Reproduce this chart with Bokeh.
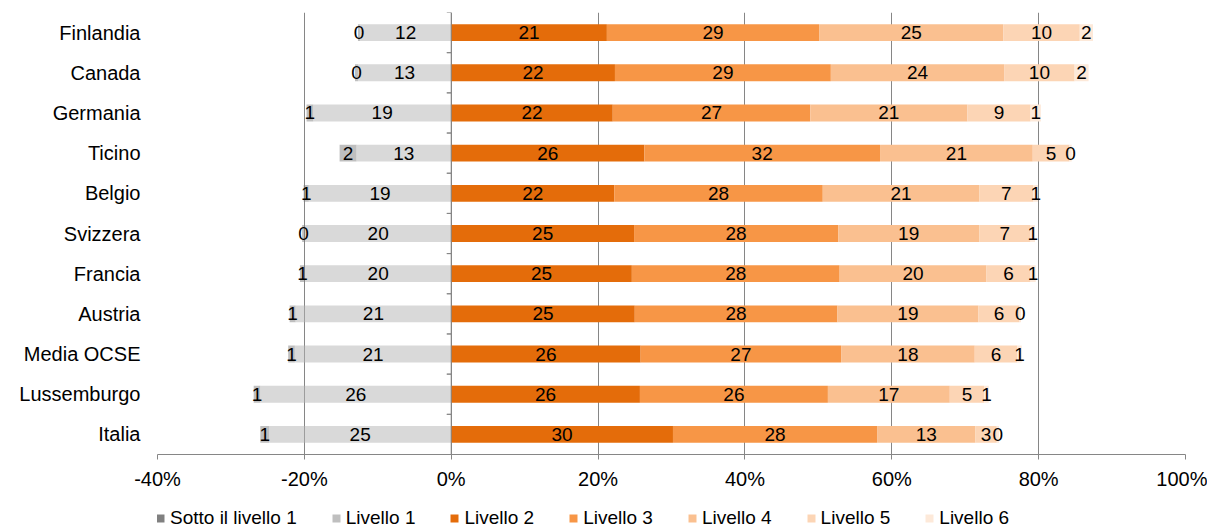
import numpy as np
from bokeh.plotting import figure
from bokeh.layouts import column
from bokeh.models import (ColumnDataSource, FactorRange, Range1d, FixedTicker,
                          PrintfTickFormatter, Legend, LegendItem, Span)
from bokeh.transform import dodge
from bokeh.core.properties import value
from bokeh.embed import file_html
from bokeh.resources import INLINE

# ---------------- data ----------------
categories = ["Finlandia", "Canada", "Germania", "Ticino", "Belgio", "Svizzera",
              "Francia", "Austria", "Media OCSE", "Lussemburgo", "Italia"]
sotto_livello1 = [0.3, 0.4, 0.9, 2.3, 0.7, 0.4, 0.7, 0.8, 0.9, 0.9, 1.2]
livello1 = [12.4, 12.7, 18.8, 12.9, 19.4, 19.9, 19.9, 21.2, 21.3, 26.0, 24.8]
livello2 = [21.2, 22.3, 22.0, 26.3, 22.2, 24.9, 24.6, 25.0, 25.8, 25.7, 30.2]
livello3 = [28.9, 29.4, 26.9, 32.1, 28.4, 27.8, 28.3, 27.6, 27.3, 25.6, 27.8]
livello4 = [25.1, 23.6, 21.4, 20.8, 21.3, 19.2, 20.0, 19.2, 18.2, 16.6, 13.4]
livello5 = [10.4, 9.6, 8.6, 5.0, 7.4, 7.0, 6.0, 5.6, 5.8, 4.7, 2.9]
livello6 = [1.8, 1.9, 1.4, 0.3, 0.6, 0.6, 0.7, 0.2, 0.6, 0.6, 0.3]
series_names = ["Sotto il livello 1", "Livello 1", "Livello 2", "Livello 3",
                "Livello 4", "Livello 5", "Livello 6"]
x_ticks = [-40, -20, 0, 20, 40, 60, 80, 100]

# ---------------- styles ----------------
legend_colors = ["#808080", "#bfbfbf", "#e46c0a", "#f79646", "#fac090", "#fcd5b5", "#fde9d9"]
bar_colors = ["#808080", "#b3b3b3", "#e46c0a", "#f79646", "#fac090", "#fcd5b5", "#fde9d9"]
bar_alpha = [0.5, 0.5, 1, 1, 1, 1, 1]
FONT = "Liberation Sans"
GRID = "#868686"

p = figure(width=1207, height=492,
           y_range=FactorRange(*categories[::-1]), x_range=Range1d(-40, 100),
           output_backend="svg", toolbar_location=None,
           min_border_left=157, min_border_right=22, min_border_top=12, min_border_bottom=37)
p.outline_line_color = None
p.background_fill_color = "white"

# stacked segments
l1 = np.array(livello1)
b1 = np.array(sotto_livello1)
pos_series = [np.array(v) for v in (livello2, livello3, livello4, livello5, livello6)]
segments = [(-(l1 + b1), -l1, b1), (-l1, np.zeros_like(l1), l1)]
cum = np.zeros(len(categories))
for v in pos_series:
    segments.append((cum.copy(), cum + v, v))
    cum = cum + v

for i, (left, right, vals) in enumerate(segments):
    src = ColumnDataSource(dict(cat=categories, left=left, right=right))
    p.hbar(y="cat", left="left", right="right", height=0.42, source=src,
           fill_color=bar_colors[i], fill_alpha=bar_alpha[i], line_color=None)

for i, (left, right, vals) in enumerate(segments):
    src = ColumnDataSource(dict(cat=categories, mid=(left + right) / 2,
                                label=[str(int(round(x))) for x in vals]))
    p.text(x="mid", y="cat", text="label", source=src, text_align="center",
           text_baseline="middle", text_font=value(FONT), text_font_size="19px",
           text_color="black")

# zero (category) axis line and its ticks
p.add_layout(Span(location=0, dimension="height", line_color=GRID, line_width=1))
tick_src = ColumnDataSource(dict(cat=categories, x0=[0] * len(categories),
                                 x1=[-0.6] * len(categories)))
p.segment(x0="x0", x1="x1", y0=dodge("cat", 0.5, range=p.y_range),
          y1=dodge("cat", 0.5, range=p.y_range), source=tick_src, line_color=GRID)
p.segment(x0="x0", x1="x1", y0=dodge("cat", -0.5, range=p.y_range),
          y1=dodge("cat", -0.5, range=p.y_range), source=tick_src, line_color=GRID)

# grid
p.xgrid.ticker = FixedTicker(ticks=x_ticks)
p.xgrid.grid_line_color = GRID
p.ygrid.grid_line_color = None

# x axis
p.xaxis.ticker = FixedTicker(ticks=x_ticks)
p.xaxis.formatter = PrintfTickFormatter(format="%d%%")
p.xaxis.axis_line_color = GRID
p.xaxis.major_tick_line_color = GRID
p.xaxis.major_tick_out = 5
p.xaxis.major_tick_in = 0
p.xaxis.minor_tick_line_color = None
p.xaxis.major_label_text_font = FONT
p.xaxis.major_label_text_font_size = "20px"
p.xaxis.major_label_text_color = "black"
p.xaxis.major_label_standoff = 8

# y axis (category labels)
p.yaxis.axis_line_color = None
p.yaxis.major_tick_line_color = None
p.yaxis.minor_tick_line_color = None
p.yaxis.major_tick_out = 0
p.yaxis.major_tick_in = 0
p.yaxis.major_label_standoff = 17
p.yaxis.major_label_text_font = FONT
p.yaxis.major_label_text_font_size = "20px"
p.yaxis.major_label_text_color = "black"

# ---------------- legend strip (separate small figure) ----------------
lg = figure(width=1207, height=36, x_range=Range1d(0, 1), y_range=Range1d(0, 1),
            output_backend="svg", toolbar_location=None,
            min_border_left=0, min_border_right=0, min_border_top=0, min_border_bottom=0,
            x_axis_type=None, y_axis_type=None)
lg.outline_line_color = None
lg.xgrid.visible = False
lg.ygrid.visible = False
items = []
for name, col in zip(series_names, legend_colors):
    # off-screen placeholder mark used only for the legend swatch
    r = lg.hbar(y=[-10], left=[0], right=[1], height=0.4, fill_color=col, line_color=None)
    items.append(LegendItem(label=name, renderers=[r]))
legend = Legend(items=items, orientation="horizontal", location=(-2, -1),
                glyph_width=10, glyph_height=10, label_standoff=5, spacing=34,
                padding=0, margin=0, border_line_color=None, background_fill_alpha=0,
                label_text_font=FONT, label_text_font_size="19px", label_text_color="black")
lg.add_layout(legend)

layout = column(p, lg, spacing=0)
open("out.html", "w").write(file_html(layout, INLINE))
